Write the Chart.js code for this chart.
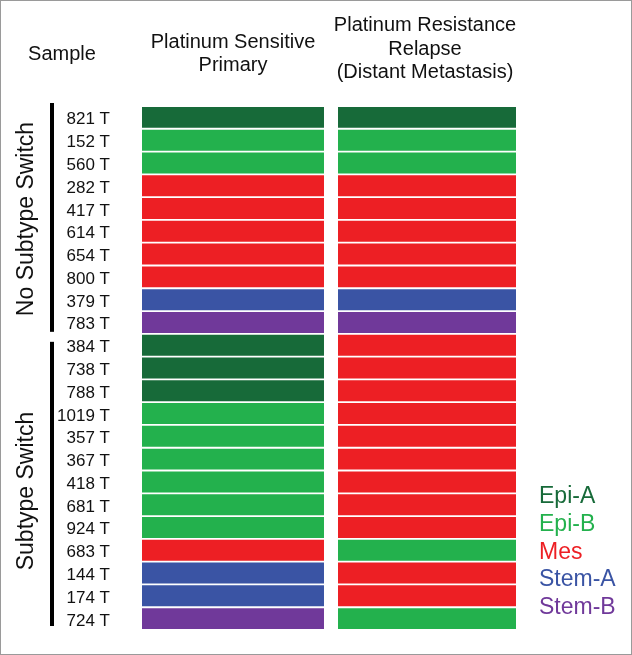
<!DOCTYPE html>
<html>
<head>
<meta charset="utf-8">
<script src="https://cdn.jsdelivr.net/npm/chart.js@4"></script>
<style>
  html, body { margin: 0; padding: 0; background: #fff; }
  #wrap { width: 632px; height: 655px; }
</style>
</head>
<body>
<div id="wrap"><canvas id="subtypeChart" width="632" height="655"></canvas></div>
<script>
const samples = ['821 T', '152 T', '560 T', '282 T', '417 T', '614 T', '654 T', '800 T', '379 T', '783 T',
    '384 T', '738 T', '788 T', '1019 T', '357 T', '367 T', '418 T', '681 T', '924 T', '683 T', '144 T', '174 T', '724 T'];

const primary = ['Epi-A', 'Epi-B', 'Epi-B', 'Mes', 'Mes', 'Mes', 'Mes', 'Mes', 'Stem-A', 'Stem-B',
    'Epi-A', 'Epi-A', 'Epi-A', 'Epi-B', 'Epi-B', 'Epi-B', 'Epi-B', 'Epi-B', 'Epi-B', 'Mes', 'Stem-A', 'Stem-A', 'Stem-B'];

const relapse = ['Epi-A', 'Epi-B', 'Epi-B', 'Mes', 'Mes', 'Mes', 'Mes', 'Mes', 'Stem-A', 'Stem-B',
    'Mes', 'Mes', 'Mes', 'Mes', 'Mes', 'Mes', 'Mes', 'Mes', 'Mes', 'Epi-B', 'Mes', 'Mes', 'Epi-B'];

const subtypes = ['Epi-A', 'Epi-B', 'Mes', 'Stem-A', 'Stem-B'];
const subtypeColors = ['#176a39', '#23b14d', '#ed1f24', '#3a54a4', '#70399a'];

const groups = ['No Subtype Switch', 'Subtype Switch'];
const groupRows = [[0, 9], [10, 22]];

const columnTitles = [['Platinum Sensitive', 'Primary'], ['Platinum Resistance', 'Relapse', '(Distant Metastasis)']];
const columnSpans = [[0, 1], [1.077, 2.055]];

const FONT = '"Liberation Sans", Arial, sans-serif';

function colorOf(name) {
    return subtypeColors[subtypes.indexOf(name)];
}

const decorations = {
    id: 'decorations',
    afterDraw(chart) {
        const ctx = chart.ctx;
        const x = chart.scales.x;
        const y = chart.scales.y;
        const step = y.getPixelForValue(1) - y.getPixelForValue(0);
        ctx.save();

        // frame
        ctx.strokeStyle = '#9a9a9a';
        ctx.lineWidth = 1;
        ctx.strokeRect(0.5, 0.5, chart.width - 1, chart.height - 1);

        // sample labels
        ctx.fillStyle = '#111';
        ctx.font = '17px ' + FONT;
        ctx.textAlign = 'right';
        ctx.textBaseline = 'alphabetic';
        samples.forEach((s, i) => ctx.fillText(s, 110, y.getPixelForValue(i) + 7));

        // headers
        ctx.font = '20px ' + FONT;
        ctx.textAlign = 'center';
        ctx.fillText('Sample', 62, 60);
        const lastBase = [71, 78];
        columnTitles.forEach((lines, i) => {
            const cx = (x.getPixelForValue(columnSpans[i][0]) + x.getPixelForValue(columnSpans[i][1])) / 2 - (i === 1 ? 2 : 0);
            const top = lastBase[i] - (lines.length - 1) * 23.5;
            lines.forEach((line, j) => ctx.fillText(line, cx, top + j * 23.5));
        });

        // group bars and labels
        const barEnds = [[-3, -2], [8, -4]];
        const labelMid = [219, 491];
        groupRows.forEach((rows, i) => {
            const y0 = y.getPixelForValue(rows[0]) - step / 2 + barEnds[i][0];
            const y1 = y.getPixelForValue(rows[1]) + step / 2 + barEnds[i][1];
            ctx.fillStyle = '#000';
            ctx.fillRect(50, y0, 4, y1 - y0);
            ctx.save();
            ctx.translate(33, labelMid[i]);
            ctx.rotate(-Math.PI / 2);
            ctx.font = '23px ' + FONT;
            ctx.fillStyle = '#111';
            ctx.fillText(groups[i], 0, 0);
            ctx.restore();
        });

        // legend
        ctx.font = '23px ' + FONT;
        ctx.textAlign = 'left';
        subtypes.forEach((name, i) => {
            ctx.fillStyle = subtypeColors[i];
            ctx.fillText(name, 539, 503 + i * 27.8);
        });
        ctx.restore();
    }
};

new Chart(document.getElementById('subtypeChart'), {
    type: 'bar',
    data: {
        labels: samples,
        datasets: [
            {
                label: 'Platinum Sensitive Primary',
                data: samples.map(() => columnSpans[0]),
                backgroundColor: primary.map(colorOf)
            },
            {
                label: 'Platinum Resistance Relapse',
                data: samples.map(() => columnSpans[1]),
                backgroundColor: relapse.map(colorOf)
            }
        ]
    },
    options: {
        indexAxis: 'y',
        responsive: false,
        animation: false,
        layout: { padding: { left: 142, right: 116, top: 106, bottom: 25 } },
        datasets: {
            bar: { grouped: false, categoryPercentage: 1, barPercentage: 0.92, borderWidth: 0 }
        },
        plugins: {
            legend: { display: false },
            tooltip: { enabled: false }
        },
        scales: {
            x: { type: 'linear', min: 0, max: 2.055, display: false },
            y: { display: false }
        }
    },
    plugins: [decorations]
});
</script>
</body>
</html>
